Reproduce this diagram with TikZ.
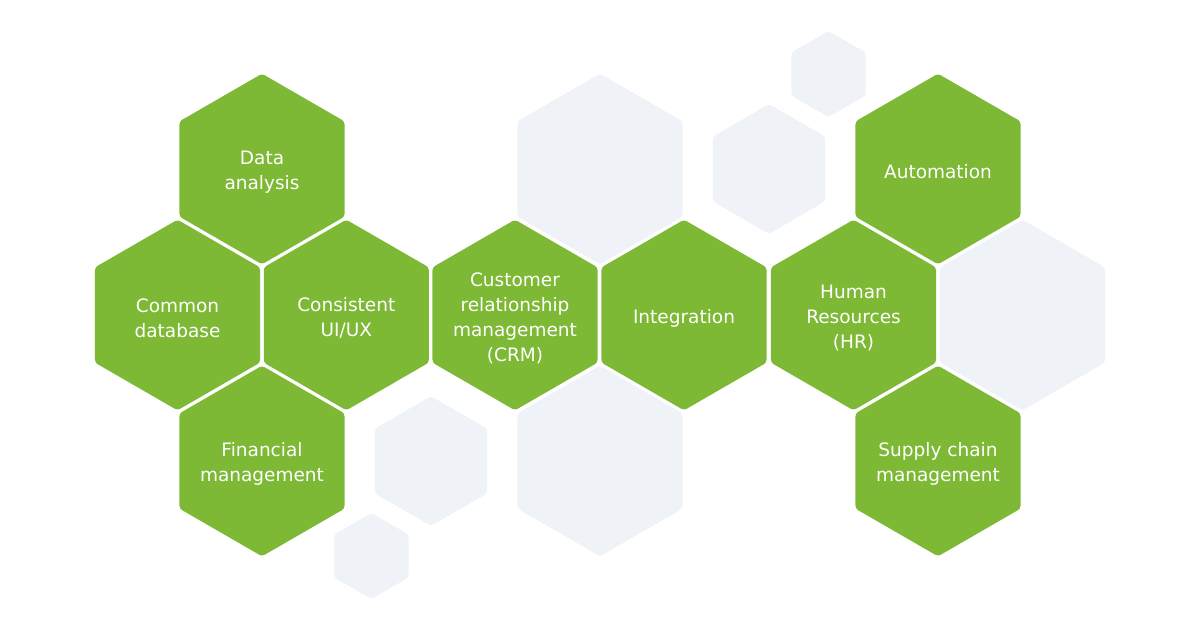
\documentclass[tikz,border=0pt]{standalone}
\usepackage{fontspec}
\setmainfont{DejaVu Sans}
\usetikzlibrary{shapes.geometric}
\definecolor{hexgreen}{RGB}{125,185,52}
\definecolor{hexgray}{RGB}{239,242,247}
\tikzset{
  hex/.style={regular polygon,regular polygon sides=6,shape border rotate=30,
    inner sep=0pt,outer sep=0pt,rounded corners=3pt,minimum size=#1},
  hexgr/.style={hex=190.6pt,fill=hexgreen},
  hexbg/.style={hex=#1,fill=hexgray},
  hextxt/.style={text=white,align=center,yshift=-3pt,font=\fontsize{18.5}{25}\selectfont}
}
\begin{document}
\begin{tikzpicture}[x=1pt,y=-1pt]
\useasboundingbox (0,0) rectangle (1200,630);
% background hexagons
\node[hexbg=190.6pt] (bgtop) at (600,169) {};
\node[hexbg=190.6pt] (bgbot) at (600,461) {};
\node[hexbg=190.6pt] (bgright) at (1022.5,315) {};
\node[hexbg=129.6pt] (bgmidA) at (769,169) {};
\node[hexbg=129.6pt] (bgmidB) at (431,461) {};
\node[hexbg=86pt] (bgsmA) at (828.5,74) {};
\node[hexbg=86pt] (bgsmB) at (371.5,556) {};
% green hexagons
\node[hexgr] (data) at (262,169) {};
\node[hexgr] (common) at (177.5,315) {};
\node[hexgr] (consist) at (346.3,315) {};
\node[hexgr] (finance) at (262,461) {};
\node[hexgr] (crm) at (515,315) {};
\node[hexgr] (integ) at (684,315) {};
\node[hexgr] (hr) at (853.5,315) {};
\node[hexgr] (auto) at (938,169) {};
\node[hexgr] (supply) at (938,461) {};
% labels
\node[hextxt] (tdata) at (data) {Data\\analysis};
\node[hextxt] (tcommon) at (common) {Common\\database};
\node[hextxt] (tconsist) at (consist) {Consistent\\UI/UX};
\node[hextxt] (tfinance) at (finance) {Financial\\management};
\node[hextxt] (tcrm) at (crm) {Customer\\relationship\\management\\(CRM)};
\node[hextxt] (tinteg) at (integ) {Integration};
\node[hextxt] (thr) at (hr) {Human\\Resources\\(HR)};
\node[hextxt] (tauto) at (auto) {Automation};
\node[hextxt] (tsupply) at (supply) {Supply chain\\management};
\end{tikzpicture}
\end{document}
